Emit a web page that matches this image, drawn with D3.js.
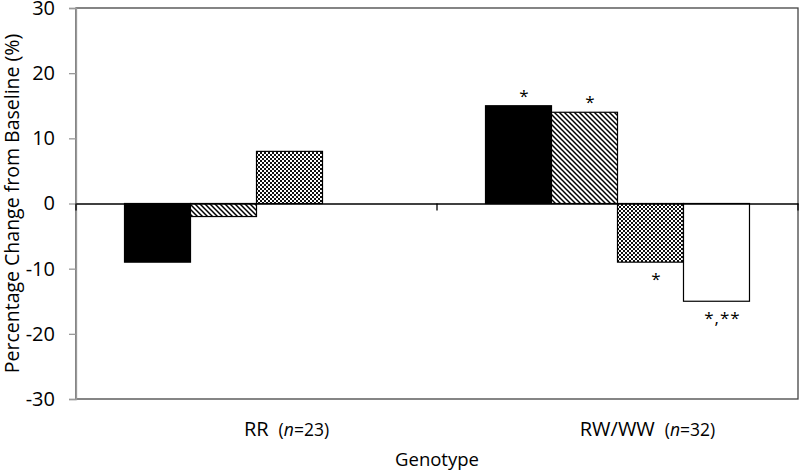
<!DOCTYPE html>
<html>
<head>
<meta charset="utf-8">
<script src="https://cdn.jsdelivr.net/npm/d3@7"></script>
<style>
  html, body { margin: 0; padding: 0; background: #fff; }
  svg { display: block; }
  text { font-family: "Open Sans", "Noto Sans", sans-serif; fill: #000; }
</style>
</head>
<body>
<svg id="chart" width="800" height="470"></svg>
<script>
// ---- data ----
const categories = ["RR", "RW/WW"];
const categoryNotes = ["23", "32"];
const seriesNames = ["Series 1", "Series 2", "Series 3", "Series 4"];
const valuesRR = [-9, -2, 8, null];
const valuesRWWW = [15, 14, -9, -15];
const annotationsRR = ["", "", "", ""];
const annotationsRWWW = ["*", "*", "*", "*,**"];
const yTicks = [-30, -20, -10, 0, 10, 20, 30];
const yTitle = "Percentage Change from Baseline (%)";
const xTitle = "Genotype";

const seriesValues = [valuesRR, valuesRWWW];
const seriesNotes = [annotationsRR, annotationsRWWW];

// ---- layout ----
const W = 800, H = 470;
const margin = {left: 76, right: 2, top: 8, bottom: 71};
const svg = d3.select("#chart");

const x0 = d3.scaleBand().domain(categories).range([margin.left, W - margin.right]).padding(0);
const x1 = d3.scaleBand().domain(seriesNames).range([0, x0.bandwidth()]).paddingInner(0).paddingOuter(0.735);
const y = d3.scaleLinear().domain([-30, 30]).range([H - margin.bottom, margin.top]);

// ---- patterns ----
const defs = svg.append("defs");
const hatch = defs.append("pattern").attr("id", "hatch").attr("patternUnits", "userSpaceOnUse")
  .attr("width", 5).attr("height", 5);
hatch.append("rect").attr("width", 5).attr("height", 5).attr("fill", "#fff");
hatch.append("path").attr("d", "M-1.5,-1.5 L6.5,6.5 M-1.5,3.5 L1.5,6.5 M3.5,-1.5 L6.5,1.5")
  .attr("stroke", "#000").attr("stroke-width", 1.5);
const check = defs.append("pattern").attr("id", "check").attr("patternUnits", "userSpaceOnUse")
  .attr("width", 4).attr("height", 4);
check.append("rect").attr("width", 4).attr("height", 4).attr("fill", "#fff");
check.append("rect").attr("width", 2).attr("height", 2).attr("fill", "#111");
check.append("rect").attr("x", 2).attr("y", 2).attr("width", 2).attr("height", 2).attr("fill", "#111");
const fills = ["#000", "url(#hatch)", "url(#check)", "#fff"];

// ---- frame ----
svg.append("rect")
  .attr("x", margin.left).attr("y", margin.top)
  .attr("width", W - margin.right - margin.left).attr("height", y(-30) - y(30))
  .attr("fill", "none").attr("stroke", "#444").attr("stroke-width", 1.3);

// ---- y axis ----
const yAxis = d3.axisLeft(y).tickValues(yTicks).tickSize(7).tickPadding(14).tickFormat(d => String(d));
const gy = svg.append("g").attr("transform", `translate(${margin.left},0)`).call(yAxis);
gy.select(".domain").attr("stroke", "#999").attr("stroke-width", 1.3);
gy.selectAll(".tick line").attr("stroke", "#999").attr("stroke-width", 1.3);
gy.selectAll(".tick text").attr("font-size", 20).attr("font-family", "Open Sans, sans-serif").attr("fill", "#000");

// ---- bars ----
const groups = svg.append("g").selectAll("g").data(categories).join("g")
  .attr("transform", d => `translate(${x0(d)},0)`);

groups.each(function(cat, ci) {
  const g = d3.select(this);
  const rows = seriesNames.map((s, si) => ({s, si, v: seriesValues[ci][si], note: seriesNotes[ci][si]}))
    .filter(d => d.v !== null);
  g.selectAll("rect").data(rows).join("rect")
    .attr("x", d => x1(d.s))
    .attr("width", x1.bandwidth())
    .attr("y", d => y(Math.max(0, d.v)))
    .attr("height", d => Math.abs(y(d.v) - y(0)))
    .attr("fill", d => fills[d.si])
    .attr("stroke", "#000").attr("stroke-width", 1.2);
  g.selectAll("text.note").data(rows.filter(d => d.note)).join("text")
    .attr("class", "note")
    .attr("x", d => x1(d.s) + x1.bandwidth() / 2 + 6)
    .attr("y", d => d.v >= 0 ? y(d.v) - 4 : y(d.v) + 23)
    .attr("text-anchor", "middle")
    .attr("font-family", "Liberation Sans, Arial, sans-serif")
    .attr("font-size", 17)
    .attr("letter-spacing", 1)
    .text(d => d.note);
});

// ---- zero axis with category ticks ----
const xAxis = d3.axisBottom(x0).tickSize(0).tickFormat("");
const gx = svg.append("g").attr("transform", `translate(0,${y(0)})`).call(xAxis);
gx.select(".domain").attr("stroke", "#000").attr("stroke-width", 1.3);
const catEdges = [margin.left, ...categories.slice(1).map(c => x0(c)), W - margin.right];
gx.selectAll("line.ctick").data(catEdges).join("line").attr("class", "ctick")
  .attr("x1", d => d).attr("x2", d => d).attr("y1", 0).attr("y2", 7)
  .attr("stroke", "#000").attr("stroke-width", 1.3);

// ---- category labels ----
const labels = svg.append("g").selectAll("text").data(categories).join("text")
  .attr("x", d => x0(d) + x0.bandwidth() / 2 + 30)
  .attr("y", 436)
  .attr("text-anchor", "middle")
  .attr("font-size", 20);
labels.each(function(d, i) {
  const t = d3.select(this);
  t.append("tspan").text(d);
  t.append("tspan").attr("dx", 10).attr("font-size", 17.5).text("(");
  t.append("tspan").attr("font-size", 17.5).attr("font-style", "italic").text("n");
  t.append("tspan").attr("font-size", 17.5).text("=" + categoryNotes[i] + ")");
});

// ---- axis titles ----
svg.append("text")
  .attr("x", (margin.left + W - margin.right) / 2)
  .attr("y", 466)
  .attr("text-anchor", "middle")
  .attr("font-size", 18.5)
  .text(xTitle);

svg.append("text")
  .attr("transform", `translate(19,${y(0)}) rotate(-90)`)
  .attr("text-anchor", "middle")
  .attr("font-size", 19.5)
  .text(yTitle);
</script>
</body>
</html>
